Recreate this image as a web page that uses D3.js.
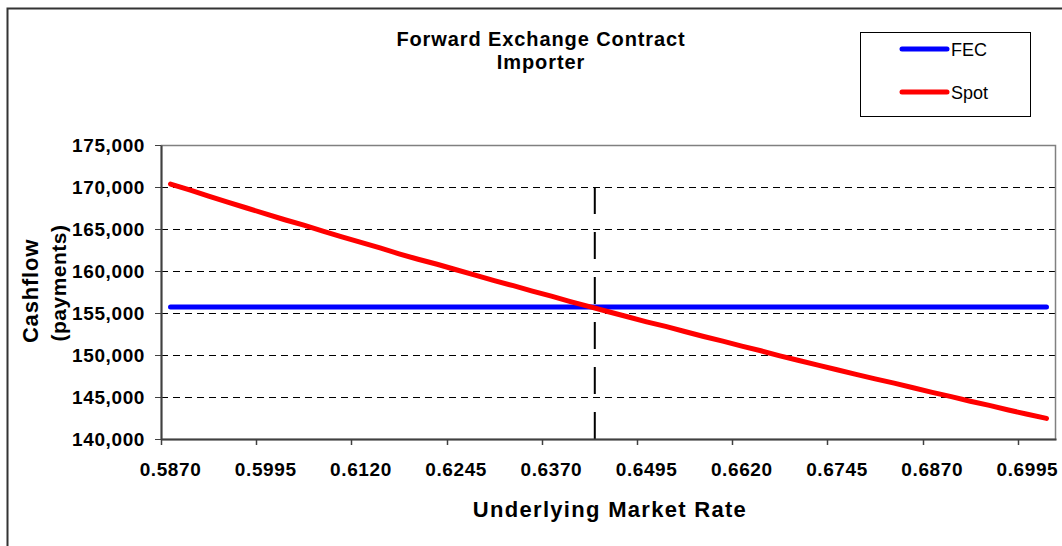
<!DOCTYPE html>
<html>
<head>
<meta charset="utf-8">
<script src="https://cdn.jsdelivr.net/npm/d3@7"></script>
<style>
  body { margin: 0; background: #fff; }
  svg { display: block; font-family: "Liberation Sans", Arial, sans-serif; }
</style>
</head>
<body>
<svg id="drawing_region"></svg>
<script>
// categories on the x axis (market rate)
const rates = [
  0.5870, 0.5895, 0.5920, 0.5945, 0.5970, 0.5995, 0.6020, 0.6045, 0.6070, 0.6095,
  0.6120, 0.6145, 0.6170, 0.6195, 0.6220, 0.6245, 0.6270, 0.6295, 0.6320, 0.6345,
  0.6370, 0.6395, 0.6420, 0.6445, 0.6470, 0.6495, 0.6520, 0.6545, 0.6570, 0.6595,
  0.6620, 0.6645, 0.6670, 0.6695, 0.6720, 0.6745, 0.6770, 0.6795, 0.6820, 0.6845,
  0.6870, 0.6895, 0.6920, 0.6945, 0.6970, 0.6995, 0.7020
];
// FEC payments (flat)
const fecValues = rates.map(() => 155700);
// Spot payments
const spotValues = [
  170350, 169650, 168900, 168200, 167500, 166800, 166100, 165450, 164750, 164050,
  163400, 162750, 162050, 161400, 160800, 160150, 159500, 158850, 158250, 157600,
  157000, 156350, 155750, 155150, 154550, 153950, 153400, 152800, 152200, 151650,
  151050, 150500, 149900, 149350, 148800, 148250, 147700, 147150, 146650, 146100,
  145550, 145050, 144500, 144000, 143450, 142950, 142450
];
const yTicks = [140000, 145000, 150000, 155000, 160000, 165000, 170000, 175000];
const labelEvery = 5;
const forwardRate = 0.6427;
const markerRange = [140000, 170000];

const config = {
  width: 1062, height: 546,
  margin: {top: 145, right: 6, bottom: 107, left: 161}
};

const svg = d3.select('#drawing_region')
  .attr('width', config.width)
  .attr('height', config.height);

// chart border (top / left)
svg.append('path')
  .attr('d', `M7.5,${config.height} V8.5 H${config.width}`)
  .attr('fill', 'none').attr('stroke', '#333').attr('stroke-width', 2);

const inner_width = config.width - config.margin.left - config.margin.right;
const inner_height = config.height - config.margin.top - config.margin.bottom;

const chart = svg.append('g')
  .attr('transform', `translate(${config.margin.left}, ${config.margin.top})`);

const xscale = d3.scaleBand().domain(rates).range([0, inner_width]).padding(0);
const bw = xscale.bandwidth();
const xrate = d3.scaleLinear()
  .domain([rates[0], rates[rates.length - 1]])
  .range([xscale(rates[0]) + bw / 2, xscale(rates[rates.length - 1]) + bw / 2]);
const yscale = d3.scaleLinear().domain([140000, 175000]).range([inner_height, 0]);

// gridlines
chart.selectAll('.grid')
  .data(yTicks.filter(v => v > 140000 && v < 175000))
  .join('line')
  .attr('x1', 0).attr('x2', inner_width)
  .attr('y1', d => Math.round(yscale(d)) + 0.5).attr('y2', d => Math.round(yscale(d)) + 0.5)
  .attr('stroke', '#000').attr('stroke-width', 1).attr('stroke-dasharray', '7,5');

// plot area border
chart.append('rect')
  .attr('x', 0.5).attr('y', 0.5)
  .attr('width', inner_width - 1).attr('height', inner_height)
  .attr('fill', 'none').attr('stroke', '#808080').attr('stroke-width', 1.5);

// vertical forward rate marker
chart.append('line')
  .attr('x1', xrate(forwardRate)).attr('x2', xrate(forwardRate))
  .attr('y1', yscale(markerRange[1])).attr('y2', yscale(markerRange[0]))
  .attr('stroke', '#000').attr('stroke-width', 2).attr('stroke-dasharray', '27,18');

// y axis
const yaxis = d3.axisLeft(yscale).tickValues(yTicks).tickSize(6).tickSizeOuter(0)
  .tickFormat(d3.format(','));
const yg = chart.append('g').call(yaxis);
yg.select('.domain').attr('stroke', '#404040').attr('stroke-width', 2);
yg.selectAll('.tick line').attr('stroke', '#404040');
yg.selectAll('.tick text')
  .attr('x', -16).attr('font-size', '19px').attr('font-weight', 'bold')
  .attr('letter-spacing', '0.6px')
  .attr('fill', '#000').attr('font-family', '"Liberation Sans", Arial, sans-serif');

// x axis
const xLabelVals = rates.filter((d, i) => i % labelEvery === 0);
const xaxis = d3.axisBottom(xscale).tickValues(xLabelVals).tickSize(0)
  .tickFormat(d3.format('.4f'));
const xg = chart.append('g')
  .attr('transform', `translate(0, ${inner_height})`)
  .call(xaxis);
xg.select('.domain').attr('stroke', '#404040').attr('stroke-width', 2);
xg.selectAll('.tick text')
  .attr('y', 24).attr('font-size', '19px').attr('font-weight', 'bold')
  .attr('letter-spacing', '0.6px')
  .attr('fill', '#000').attr('font-family', '"Liberation Sans", Arial, sans-serif');
xg.selectAll('.xtick')
  .data(xLabelVals)
  .join('line')
  .attr('x1', d => Math.round(xscale(d)) + 0.5).attr('x2', d => Math.round(xscale(d)) + 0.5)
  .attr('y1', 0).attr('y2', 6)
  .attr('stroke', '#404040').attr('stroke-width', 1.5);

// series
const line = d3.line()
  .x((d, i) => xscale(rates[i]) + bw / 2)
  .y(d => yscale(d));

chart.append('path')
  .datum(fecValues)
  .attr('d', line)
  .attr('fill', 'none').attr('stroke', '#0000FF').attr('stroke-width', 5)
  .attr('stroke-linecap', 'round').attr('stroke-linejoin', 'round');

chart.append('path')
  .datum(spotValues)
  .attr('d', line)
  .attr('fill', 'none').attr('stroke', '#FF0000').attr('stroke-width', 5)
  .attr('stroke-linecap', 'round').attr('stroke-linejoin', 'round');

// title
svg.append('text')
  .attr('x', 541).attr('y', 46)
  .attr('text-anchor', 'middle').attr('font-size', '20px').attr('font-weight', 'bold')
  .attr('letter-spacing', '0.9px')
  .text('Forward Exchange Contract');
svg.append('text')
  .attr('x', 541).attr('y', 69)
  .attr('text-anchor', 'middle').attr('font-size', '20px').attr('font-weight', 'bold')
  .attr('letter-spacing', '0.9px')
  .text('Importer');

// axis titles
svg.append('text')
  .attr('x', 610).attr('y', 517)
  .attr('text-anchor', 'middle').attr('font-size', '22px').attr('font-weight', 'bold')
  .attr('letter-spacing', '1.3px')
  .text('Underlying Market Rate');
svg.append('text')
  .attr('transform', 'translate(38, 291) rotate(-90)')
  .attr('text-anchor', 'middle').attr('font-size', '22px').attr('font-weight', 'bold')
  .attr('letter-spacing', '0.8px')
  .text('Cashflow');
svg.append('text')
  .attr('transform', 'translate(66, 283) rotate(-90)')
  .attr('text-anchor', 'middle').attr('font-size', '21px').attr('font-weight', 'bold')
  .attr('letter-spacing', '0.5px')
  .text('(payments)');

// legend
const legend = svg.append('g');
legend.append('rect')
  .attr('x', 860.5).attr('y', 32.5).attr('width', 170).attr('height', 84)
  .attr('fill', '#fff').attr('stroke', '#000').attr('stroke-width', 1);
const legendItems = [
  {name: 'FEC', color: '#0000FF'},
  {name: 'Spot', color: '#FF0000'}
];
legendItems.forEach((d, i) => {
  const y = 49 + i * 43;
  legend.append('line')
    .attr('x1', 902).attr('x2', 947).attr('y1', y).attr('y2', y)
    .attr('stroke', d.color).attr('stroke-width', 5).attr('stroke-linecap', 'round');
  legend.append('text')
    .attr('x', 951).attr('y', y + 6.5)
    .attr('font-size', '18px')
    .text(d.name);
});
</script>
</body>
</html>
